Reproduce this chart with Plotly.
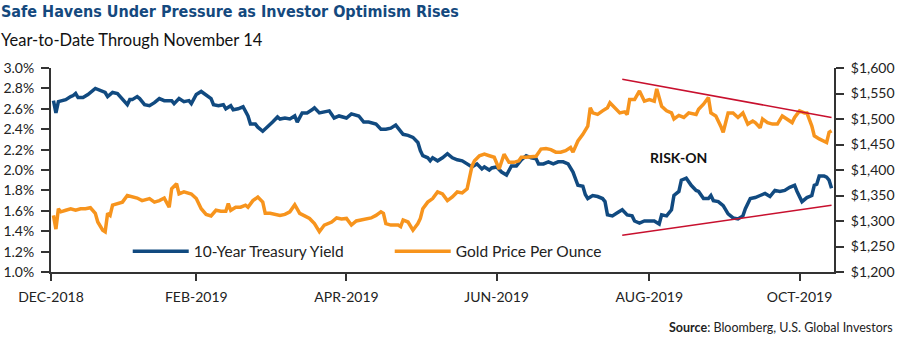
import plotly.graph_objects as go

# ---------------- data ----------------
yield_dates = [
    "01-02", "01-03", "01-04", "01-07", "01-09", "01-10", "01-11", "01-12", "01-14", "01-16",
    "01-19", "01-21", "01-23", "01-24", "01-26", "01-28", "01-29", "02-01", "02-02", "02-03",
    "02-05", "02-06", "02-08", "02-10", "02-12", "02-14", "02-16", "02-19", "02-20", "02-22",
    "02-24", "02-26", "02-27", "03-01", "03-03", "03-05", "03-07", "03-08", "03-10", "03-12",
    "03-13", "03-15", "03-16", "03-18", "03-20", "03-22", "03-23", "03-25", "03-26", "03-28",
    "03-30", "04-01", "04-03", "04-04", "04-06", "04-08", "04-10", "04-11", "04-13", "04-15",
    "04-17", "04-18", "04-20", "04-22", "04-24", "04-26", "04-28", "05-01", "05-03", "05-06",
    "05-08", "05-10", "05-13", "05-15", "05-17", "05-19", "05-21", "05-24", "05-26", "05-28",
    "05-30", "05-31", "06-01", "06-03", "06-04", "06-05", "06-07", "06-09", "06-11", "06-13",
    "06-15", "06-17", "06-19", "06-21", "06-23", "06-25", "06-26", "06-28", "06-29", "07-01",
    "07-03", "07-05", "07-07", "07-09", "07-11", "07-13", "07-15", "07-17", "07-18", "07-20",
    "07-22", "07-24", "07-26", "07-28", "07-30", "08-01", "08-03", "08-05", "08-06", "08-07",
    "08-09", "08-11", "08-13", "08-14", "08-15", "08-17", "08-19", "08-21", "08-23", "08-25",
    "08-26", "08-28", "08-30", "09-01", "09-03", "09-05", "09-06", "09-08", "09-10", "09-11",
    "09-13", "09-14", "09-16", "09-18", "09-20", "09-21", "09-23", "09-25", "09-26", "09-27",
    "09-29", "10-01", "10-03", "10-05", "10-07", "10-09", "10-10", "10-12", "10-14", "10-16",
    "10-18", "10-20", "10-22", "10-24", "10-26", "10-28", "10-30", "10-31", "11-02", "11-04",
    "11-06", "11-07", "11-08", "11-09", "11-11", "11-12", "11-13", "11-14",
]
yield_values = [
    2.68, 2.56, 2.67, 2.69, 2.72, 2.73, 2.75, 2.71, 2.71, 2.74,
    2.80, 2.78, 2.76, 2.72, 2.76, 2.75, 2.72, 2.64, 2.69, 2.69,
    2.72, 2.70, 2.64, 2.63, 2.66, 2.70, 2.68, 2.68, 2.65, 2.70,
    2.67, 2.68, 2.65, 2.74, 2.77, 2.74, 2.70, 2.64, 2.63, 2.64,
    2.60, 2.63, 2.59, 2.60, 2.62, 2.53, 2.45, 2.45, 2.42, 2.38,
    2.42, 2.47, 2.52, 2.50, 2.51, 2.50, 2.53, 2.47, 2.56, 2.56,
    2.59, 2.61, 2.56, 2.57, 2.58, 2.51, 2.53, 2.51, 2.55, 2.53,
    2.47, 2.47, 2.45, 2.40, 2.40, 2.41, 2.44, 2.35, 2.34, 2.32,
    2.27, 2.19, 2.14, 2.12, 2.09, 2.12, 2.09, 2.12, 2.16, 2.12,
    2.10, 2.09, 2.06, 2.03, 2.06, 2.01, 2.03, 2.00, 2.02, 2.03,
    1.98, 1.95, 2.04, 2.04, 2.10, 2.14, 2.12, 2.11, 2.06, 2.06,
    2.08, 2.06, 2.08, 2.08, 2.06, 1.98, 1.85, 1.84, 1.76, 1.72,
    1.75, 1.74, 1.72, 1.69, 1.56, 1.55, 1.58, 1.61, 1.56, 1.55,
    1.50, 1.48, 1.50, 1.50, 1.50, 1.47, 1.56, 1.55, 1.61, 1.75,
    1.79, 1.90, 1.92, 1.85, 1.80, 1.79, 1.72, 1.72, 1.75, 1.70,
    1.69, 1.65, 1.57, 1.53, 1.52, 1.55, 1.62, 1.72, 1.73, 1.75,
    1.77, 1.74, 1.80, 1.79, 1.80, 1.83, 1.85, 1.79, 1.69, 1.73,
    1.75, 1.85, 1.86, 1.94, 1.94, 1.93, 1.90, 1.82,
]

gold_dates = [
    "01-02", "01-03", "01-04", "01-05", "01-07", "01-09", "01-11", "01-13", "01-15", "01-17",
    "01-19", "01-20", "01-22", "01-23", "01-24", "01-25", "01-26", "01-28", "01-30", "02-01",
    "02-03", "02-05", "02-07", "02-10", "02-12", "02-14", "02-16", "02-18", "02-19", "02-21",
    "02-22", "02-24", "02-27", "03-01", "03-03", "03-05", "03-07", "03-09", "03-11", "03-13",
    "03-14", "03-15", "03-17", "03-19", "03-21", "03-22", "03-24", "03-26", "03-28", "03-29",
    "03-31", "04-02", "04-04", "04-06", "04-08", "04-10", "04-12", "04-14", "04-16", "04-18",
    "04-20", "04-22", "04-24", "04-25", "04-27", "04-29", "05-01", "05-03", "05-05", "05-07",
    "05-10", "05-11", "05-13", "05-15", "05-16", "05-17", "05-19", "05-22", "05-23", "05-24",
    "05-26", "05-28", "05-30", "05-31", "06-01", "06-03", "06-05", "06-07", "06-09", "06-11",
    "06-13", "06-15", "06-17", "06-19", "06-21", "06-22", "06-24", "06-26", "06-28", "06-30",
    "07-02", "07-04", "07-06", "07-08", "07-10", "07-11", "07-13", "07-15", "07-17", "07-19",
    "07-21", "07-23", "07-25", "07-27", "07-29", "07-31", "08-01", "08-03", "08-05", "08-07",
    "08-08", "08-09", "08-11", "08-13", "08-15", "08-16", "08-18", "08-20", "08-22", "08-23",
    "08-24", "08-26", "08-28", "08-30", "09-01", "09-03", "09-04", "09-06", "09-08", "09-10",
    "09-11", "09-13", "09-15", "09-17", "09-20", "09-21", "09-23", "09-25", "09-26", "09-28",
    "09-30", "10-01", "10-03", "10-05", "10-07", "10-09", "10-11", "10-13", "10-14", "10-16",
    "10-17", "10-19", "10-21", "10-23", "10-25", "10-27", "10-29", "10-30", "11-01", "11-03",
    "11-04", "11-06", "11-07", "11-09", "11-11", "11-12", "11-13", "11-14",
]
gold_values = [
    1311, 1284, 1324, 1318, 1321, 1324, 1321, 1324, 1324, 1326,
    1315, 1298, 1282, 1279, 1315, 1311, 1331, 1334, 1337, 1350,
    1347, 1345, 1340, 1344, 1337, 1340, 1345, 1327, 1363, 1373,
    1353, 1357, 1353, 1344, 1324, 1313, 1310, 1321, 1319, 1319,
    1334, 1321, 1327, 1327, 1331, 1327, 1340, 1347, 1337, 1315,
    1315, 1313, 1311, 1313, 1318, 1332, 1315, 1310, 1305, 1295,
    1279, 1292, 1295, 1298, 1306, 1304, 1305, 1292, 1300, 1302,
    1305, 1306, 1311, 1318, 1315, 1295, 1292, 1292, 1289, 1302,
    1298, 1282, 1295, 1305, 1324, 1337, 1344, 1357, 1353, 1340,
    1347, 1357, 1355, 1363, 1408, 1418, 1428, 1431, 1428, 1425,
    1402, 1431, 1415, 1415, 1418, 1425, 1425, 1426, 1427, 1441,
    1442, 1440, 1435, 1435, 1438, 1444, 1435, 1457, 1470, 1486,
    1522, 1512, 1509, 1516, 1522, 1532, 1522, 1512, 1514, 1509,
    1538, 1538, 1555, 1535, 1538, 1535, 1559, 1525, 1516, 1512,
    1500, 1507, 1503, 1512, 1509, 1519, 1529, 1542, 1512, 1506,
    1486, 1474, 1512, 1512, 1503, 1512, 1490, 1496, 1493, 1483,
    1500, 1493, 1490, 1490, 1506, 1500, 1493, 1503, 1516, 1512,
    1512, 1486, 1467, 1461, 1457, 1454, 1474, 1477,
]

trend_dates = ["08-21", "11-14"]
trend_upper = [1578, 1503]
trend_lower = [1272, 1331]

tick_dates = ["01-01", "03-01", "05-01", "07-01", "09-01", "11-01"]
tick_labels = ["DEC-2018", "FEB-2019", "APR-2019", "JUN-2019", "AUG-2019", "OCT-2019"]

YEAR = "2019-"
BLUE = "#114a80"
ORANGE = "#f7941d"
RED = "#c8102e"
AXIS = "#333333"
FONT = "Lato, 'Liberation Sans', sans-serif"
NARROW = "'Liberation Sans Narrow', 'DejaVu Sans Condensed', sans-serif"

fig = go.Figure()
fig.add_trace(go.Scatter(
    x=[YEAR + d for d in yield_dates], y=yield_values, name="10-Year Treasury Yield",
    mode="lines", line=dict(color=BLUE, width=3.5), yaxis="y"))
fig.add_trace(go.Scatter(
    x=[YEAR + d for d in gold_dates], y=gold_values, name="Gold Price Per Ounce",
    mode="lines", line=dict(color=ORANGE, width=3.5), yaxis="y2"))
for tv in (trend_upper, trend_lower):
    fig.add_trace(go.Scatter(
        x=[YEAR + d for d in trend_dates], y=tv, mode="lines", showlegend=False,
        line=dict(color=RED, width=1.5), yaxis="y2", hoverinfo="skip"))

fig.update_layout(
    width=900, height=342,
    margin=dict(l=51, r=66, t=68, b=70, autoexpand=False),
    paper_bgcolor="white", plot_bgcolor="white",
    font=dict(family=FONT, size=14, color="#222222"),
    showlegend=True,
    legend=dict(orientation="h", x=0.098, y=0.1, xanchor="left", yanchor="middle",
                font=dict(size=15.5, color="#222222"), entrywidth=191, entrywidthmode="pixels",
                bgcolor="rgba(0,0,0,0)", itemwidth=56),
    xaxis=dict(type="date", range=["2019-01-01", "2019-11-15"], automargin=False,
               tickvals=[YEAR + d for d in tick_dates], ticktext=tick_labels,
               showgrid=False, zeroline=False, showline=True, linecolor=AXIS, linewidth=2,
               ticks="outside", ticklen=7, tickwidth=1.5, tickcolor=AXIS,
               ticklabelstandoff=4,
               tickfont=dict(size=14, color="#222222")),
    yaxis=dict(range=[1.0, 3.0], dtick=0.2, tick0=1.0, tickformat=".1f", ticksuffix="%",
               automargin=False,
               showgrid=False, zeroline=False, showline=True, linecolor=AXIS, linewidth=2,
               ticks="outside", ticklen=8, tickwidth=1.5, tickcolor=AXIS,
               ticklabelstandoff=4,
               tickfont=dict(size=14, color="#222222")),
    yaxis2=dict(range=[1200, 1600], dtick=50, tick0=1200, tickformat=",", tickprefix="$",
                overlaying="y", side="right", automargin=False,
                showgrid=False, zeroline=False, showline=True, linecolor=AXIS, linewidth=2,
                ticks="outside", ticklen=8, tickwidth=1.5, tickcolor=AXIS,
                ticklabelstandoff=4,
                tickfont=dict(size=14, color="#222222")),
    annotations=[
        dict(text="<b>Safe Havens Under Pressure as Investor Optimism Rises</b>",
             xref="paper", yref="paper", x=-0.066, y=1.275, xanchor="left", yanchor="middle",
             showarrow=False, font=dict(family=NARROW, size=16, color="#14497e")),
        dict(text="Year-to-Date Through November 14",
             xref="paper", yref="paper", x=-0.066, y=1.137, xanchor="left", yanchor="middle",
             showarrow=False, font=dict(family=FONT, size=16.5, color="#111111")),
        dict(text="<b>RISK-ON</b>", xref="x", yref="y", x="2019-09-13", y=2.12,
             showarrow=False, font=dict(family=FONT, size=14, color="#111111")),
        dict(text="<b>Source</b>: Bloomberg, U.S. Global Investors",
             xref="paper", yref="paper", x=1.078, y=-0.27, xanchor="right", yanchor="middle",
             showarrow=False, font=dict(family=FONT, size=12.5, color="#222222")),
    ],
)

fig.write_html("out.html")
